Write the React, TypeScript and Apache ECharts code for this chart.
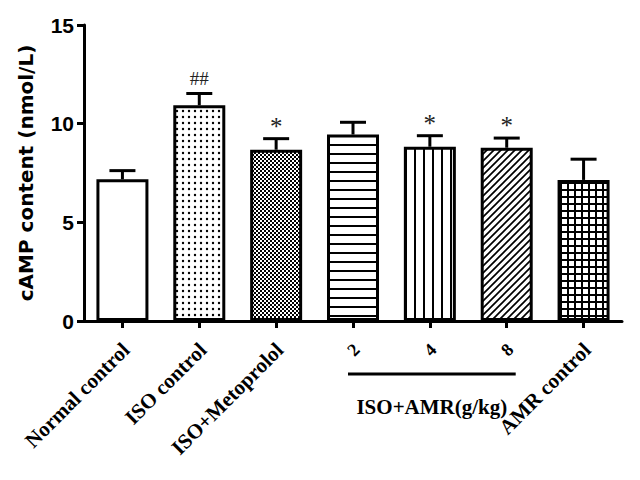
import React, { useEffect, useRef } from "react";
import * as echarts from "echarts";

const categories = ["Normal control", "ISO control", "ISO+Metoprolol", "2", "4", "8", "AMR control"];
const means = [7.18, 10.93, 8.68, 9.45, 8.83, 8.78, 7.15];
const errors = [0.44, 0.6, 0.56, 0.62, 0.56, 0.49, 1.05];
const marks = ["", "##", "*", "", "*", "*", ""];
const patterns = ["none", "dots", "check", "hlines", "vlines", "diag", "grid"];
const yMin = 0;
const yMax = 15;
const yInterval = 5;
const yName = "cAMP content (nmol/L)";
const groupCategories = ["2", "4", "8"];
const groupLabel = "ISO+AMR(g/kg)";

function makeTile(kind: string): any {
  if (kind === "none") return "#ffffff";
  const c = document.createElement("canvas");
  const ctx = c.getContext("2d") as CanvasRenderingContext2D;
  const setup = (w: number, h: number, bg = "#ffffff") => {
    c.width = w;
    c.height = h;
    ctx.fillStyle = bg;
    ctx.fillRect(0, 0, w, h);
    ctx.fillStyle = "#000";
    ctx.strokeStyle = "#000";
  };
  switch (kind) {
    case "dots":
      setup(6, 6);
      ctx.beginPath();
      ctx.arc(3, 3, 1.2, 0, Math.PI * 2);
      ctx.fill();
      break;
    case "check":
      setup(4, 4, "#000");
      ctx.fillStyle = "#fff";
      ctx.fillRect(0, 0, 2, 2);
      ctx.fillRect(2, 2, 2, 2);
      break;
    case "hlines":
      setup(8, 9);
      ctx.fillRect(0, 0, 8, 2);
      break;
    case "vlines":
      setup(9, 8);
      ctx.fillRect(0, 0, 2, 8);
      break;
    case "diag":
      setup(7, 7);
      ctx.lineWidth = 1.7;
      ctx.beginPath();
      ctx.moveTo(0, 7); ctx.lineTo(7, 0);
      ctx.moveTo(-1, 1); ctx.lineTo(1, -1);
      ctx.moveTo(6, 8); ctx.lineTo(8, 6);
      ctx.stroke();
      break;
    case "grid":
      setup(7, 7);
      ctx.fillRect(0, 0, 2, 7);
      ctx.fillRect(0, 0, 7, 2);
      break;
  }
  return { image: c, repeat: "repeat", imageWidth: c.width, imageHeight: c.height };
}

export default function App() {
  const ref = useRef<HTMLDivElement>(null);
  useEffect(() => {
    if (!ref.current) return;
    const chart = echarts.init(ref.current, null, { renderer: "svg" });
    const serif = "'Liberation Serif', 'Times New Roman', serif";
    const sans = "'Liberation Sans', Arial, sans-serif";
    chart.setOption({
      animation: false,
      backgroundColor: "#ffffff",
      grid: { left: 84, right: 18, top: 25, bottom: 159 },
      xAxis: {
        type: "category",
        data: categories,
        axisLine: { show: true, lineStyle: { color: "#000", width: 3 } },
        axisTick: { show: true, alignWithLabel: true, length: 7, lineStyle: { color: "#000", width: 3 } },
        axisLabel: {
          interval: 0,
          rotate: 45,
          margin: 22,
          verticalAlign: "middle",
          padding: [10, 0, 0, 0],
          color: "#000",
          fontFamily: serif,
          fontWeight: "bold",
          fontSize: 21,
          formatter: (v: string) => (groupCategories.includes(v) ? `{d|${v}}` : v),
          rich: { d: { fontFamily: serif, fontWeight: "bold", fontSize: 18, color: "#000" } },
        },
      },
      yAxis: {
        type: "value",
        min: yMin,
        max: yMax,
        interval: yInterval,
        name: yName,
        nameLocation: "middle",
        nameGap: 48,
        nameTextStyle: { fontFamily: "'DejaVu Sans', sans-serif", fontWeight: "bold", fontSize: 20, color: "#000" },
        axisLine: { show: true, lineStyle: { color: "#000", width: 3 } },
        axisTick: { show: true, length: 7, lineStyle: { color: "#000", width: 3 } },
        axisLabel: { color: "#000", fontFamily: sans, fontWeight: "bold", fontSize: 21, margin: 10 },
        splitLine: { show: false },
      },
      series: [
        {
          type: "bar",
          barWidth: 52,
          data: means.map((m, i) => ({
            value: m,
            itemStyle: { color: makeTile(patterns[i]), borderColor: "#000", borderWidth: 3 },
          })),
          z: 2,
        },
        {
          type: "custom",
          data: means.map((m, i) => [i, m, m + errors[i]]),
          encode: { x: 0, y: [1, 2] },
          z: 3,
          renderItem: (params: any, api: any) => {
            const x = api.value(0);
            const p0 = api.coord([x, api.value(1)]);
            const p1 = api.coord([x, api.value(2)]);
            const half = 13;
            const children: any[] = [
              { type: "line", shape: { x1: p0[0], y1: p0[1], x2: p1[0], y2: p1[1] }, style: { stroke: "#000", lineWidth: 3 } },
              { type: "line", shape: { x1: p1[0] - half, y1: p1[1], x2: p1[0] + half, y2: p1[1] }, style: { stroke: "#000", lineWidth: 3 } },
            ];
            const m = marks[params.dataIndex];
            if (m) {
              const isHash = m.includes("#");
              children.push({
                type: "text",
                style: {
                  text: m,
                  x: p1[0],
                  y: p1[1] - (isHash ? 5 : 0),
                  align: "center",
                  verticalAlign: "bottom",
                  font: `normal ${isHash ? 19 : 25}px ${serif}`,
                  fill: "#222",
                },
              });
            }
            return { type: "group", children };
          },
        },
      ],
    });
    const xa = chart.convertToPixel({ xAxisIndex: 0 }, groupCategories[0]) as number;
    const xb = chart.convertToPixel({ xAxisIndex: 0 }, groupCategories[groupCategories.length - 1]) as number;
    const y0 = chart.convertToPixel({ yAxisIndex: 0 }, 0) as number;
    chart.setOption({
      graphic: [
        { type: "line", shape: { x1: xa - 5, y1: y0 + 53, x2: xb + 9, y2: y0 + 53 }, style: { stroke: "#000", lineWidth: 3 } },
        {
          type: "text",
          x: (xa + xb) / 2 + 2,
          y: y0 + 86,
          style: { text: groupLabel, align: "center", verticalAlign: "middle", font: `bold 21px ${serif}`, fill: "#000" },
        },
      ],
    });
    return () => chart.dispose();
  }, []);
  return <div ref={ref} style={{ position: "absolute", left: 0, top: 0, width: 640, height: 480 }} />;
}
